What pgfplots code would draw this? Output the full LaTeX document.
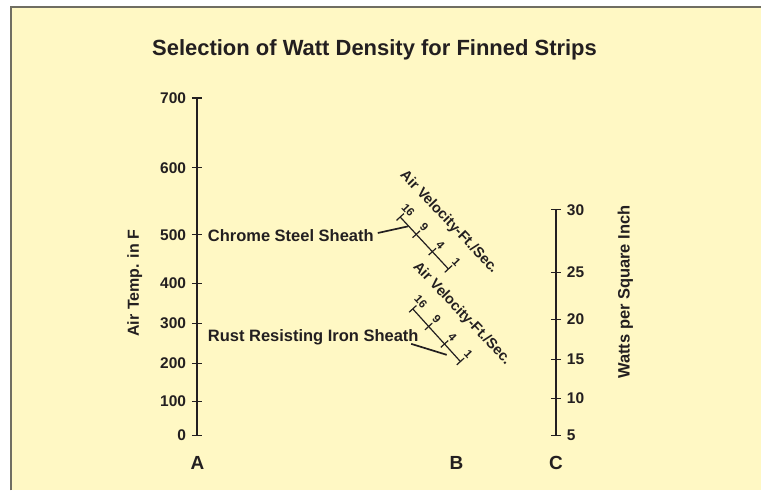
\documentclass[border=0pt]{standalone}
\usepackage{pgfplots}
\pgfplotsset{compat=1.18}
\usepackage{fontspec}
\setmainfont{Liberation Sans}
\definecolor{bgyellow}{RGB}{255,248,196}
\definecolor{frame}{RGB}{112,110,98}
\definecolor{ink}{RGB}{35,31,32}
\newcommand{\fs}[1]{\fontsize{#1}{#1}\selectfont\bfseries}
\begin{document}
\begin{tikzpicture}
\begin{axis}[
  width=762pt, height=491pt, scale only axis,
  xmin=0, xmax=762, ymin=0, ymax=491, y dir=reverse,
  axis lines=none, clip=false,
]
\path (axis cs:0,0) rectangle (axis cs:762,491);
% panel
\addplot[draw=none, fill=bgyellow] coordinates {(11,7) (762,7) (762,491) (11,491)} -- cycle;
\addplot[frame, line width=2pt] coordinates {(11,491) (11,7) (762,7)};

% ---------- scale A: air temperature (pixel position of each value)
\addplot[ink, line width=1.8pt] coordinates {(197,98) (197,436)};
\foreach \v/\y in {700/98,600/168,500/235,400/284,300/324,200/364,100/402,0/436}{
  \edef\tmp{\noexpand\addplot[ink, line width=1.4pt] coordinates {(192,\y) (202,\y)};
  \noexpand\node[anchor=east, inner sep=0pt, text=ink, font=\noexpand\fs{15.5}] at (axis cs:186.5,\y) {\v};}
  \tmp
}

% ---------- scale C: watts per square inch
\addplot[ink, line width=1.8pt] coordinates {(556.7,210) (556.7,436)};
\foreach \v/\y in {30/210,25/273,20/320,15/360,10/399,5/436}{
  \edef\tmp{\noexpand\addplot[ink, line width=1.4pt] coordinates {(551.7,\y) (561.7,\y)};
  \noexpand\node[anchor=west, inner sep=0pt, text=ink, font=\noexpand\fs{15.5}] at (axis cs:567.5,\y) {\v};}
  \tmp
}

% ---------- scale B (upper): chrome steel sheath, air velocity 16,9,4,1
\addplot[ink, line width=1.2pt] coordinates {(400.7,217.3) (449,269.3)};
\foreach \v/\x/\y in {16/400.7/217.3, 9/416.8/234.6, 4/432.9/252.0, 1/449.0/269.3}{
  \edef\tmp{\noexpand\addplot[ink, line width=1.2pt] coordinates {({\x-3.7},{\y+3.4}) ({\x+3.7},{\y-3.4})};
  \noexpand\node[anchor=center, rotate=-47, inner sep=0pt, text=ink, font=\noexpand\fs{11.5}] at (axis cs:{\x+8},{\y-7}) {\v};}
  \tmp
}
% ---------- scale B (lower): rust resisting iron sheath
\addplot[ink, line width=1.2pt] coordinates {(413.3,309.3) (461,362)};
\foreach \v/\x/\y in {16/413.3/309.3, 9/429.2/326.9, 4/445.1/344.4, 1/461.0/362.0}{
  \edef\tmp{\noexpand\addplot[ink, line width=1.2pt] coordinates {({\x-3.7},{\y+3.4}) ({\x+3.7},{\y-3.4})};
  \noexpand\node[anchor=center, rotate=-47, inner sep=0pt, text=ink, font=\noexpand\fs{11.5}] at (axis cs:{\x+8},{\y-7}) {\v};}
  \tmp
}

% leader lines
\addplot[ink, line width=1.7pt] coordinates {(378.3,233.3) (408.3,226.7)};
\addplot[ink, line width=1.7pt] coordinates {(411.7,344.3) (447.3,355.3)};

% texts
\node[anchor=base, text=ink, font=\fs{22}] at (axis cs:375,56) {Selection of Watt Density for Finned Strips};
\node[anchor=base west, inner sep=0pt, text=ink, font=\fs{16.5}] at (axis cs:208,241.7) {Chrome Steel Sheath};
\node[anchor=base west, inner sep=0pt, text=ink, font=\fs{16.5}] at (axis cs:208,341.7) {Rust Resisting Iron Sheath};
\node[anchor=base, rotate=90, inner sep=0pt, text=ink, font=\fs{16}] at (axis cs:139,283.5) {Air Temp. in F};
\node[anchor=base, rotate=90, inner sep=0pt, text=ink, font=\fs{16.5}] at (axis cs:630.5,292.5) {Watts per Square Inch};
\node[anchor=center, rotate=-46.5, inner sep=0pt, text=ink, font=\fs{14.5}] at (axis cs:449.5,222.5) {Air Velocity-Ft./Sec.};
\node[anchor=center, rotate=-46.5, inner sep=0pt, text=ink, font=\fs{14.5}] at (axis cs:462.4,314) {Air Velocity-Ft./Sec.};
\node[anchor=base, inner sep=0pt, text=ink, font=\fs{19}] at (axis cs:197.7,470) {A};
\node[anchor=base, inner sep=0pt, text=ink, font=\fs{19}] at (axis cs:457,470) {B};
\node[anchor=base, inner sep=0pt, text=ink, font=\fs{19}] at (axis cs:556.7,470) {C};
\end{axis}
\end{tikzpicture}
\end{document}
